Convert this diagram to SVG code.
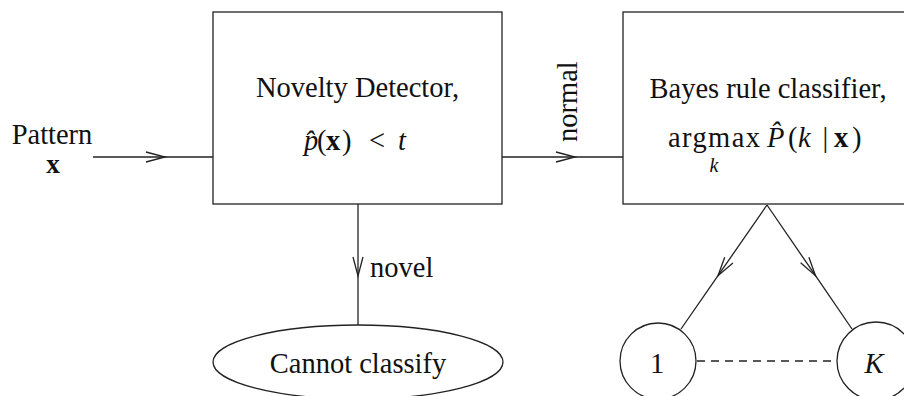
<svg xmlns="http://www.w3.org/2000/svg" width="904" height="396" viewBox="0 0 904 396" font-family="'Liberation Serif', 'Times New Roman', serif">
<style>
  text { font-family: "Liberation Serif", "Times New Roman", serif; font-size: 28.5px; fill: #111; }
  .it { font-style: italic; }
  .bf { font-weight: bold; }
  .shape { fill: #fff; stroke: #222; stroke-width: 1.3; }
  .conn { fill: none; stroke: #222; stroke-width: 1.3; marker-mid: url(#v); }
  .dash { fill: none; stroke: #222; stroke-width: 1.3; stroke-dasharray: 8 6; }
</style>
<defs>
  <marker id="v" markerUnits="userSpaceOnUse" viewBox="-1 -1 22 12" refX="19" refY="5" markerWidth="22" markerHeight="12" orient="auto" overflow="visible">
    <path d="M0,0 L19,5 L0,10" fill="none" stroke="#222" stroke-width="1.3"/>
  </marker>
</defs>
<rect width="904" height="396" fill="#fff"/>

<g id="connectors">
  <path class="conn" d="M93,157 L165,157 L213,157"/>
  <path class="conn" d="M502,157 L575,157 L623,157"/>
  <path class="conn" d="M358,204 L358,276 L358,325"/>
  <path class="conn" d="M767,205 L718,275.7 L681,329"/>
  <path class="conn" d="M767,205 L815.5,275.7 L852,329"/>
  <path class="dash" d="M697,361 L837,361"/>
  <text transform="translate(577,142) rotate(-90)">normal</text>
  <text x="370" y="277">novel</text>
</g>

<g id="input">
  <text x="52" y="144" text-anchor="middle">Pattern</text>
  <text x="53" y="173" text-anchor="middle" class="bf" style="font-size:27px">x</text>
</g>

<g id="novelty-detector">
  <rect class="shape" x="213" y="12" width="289" height="192"/>
  <text x="357.5" y="97" text-anchor="middle">Novelty Detector,</text>
  <text y="150"><tspan x="304" class="it">p&#x302;</tspan><tspan x="317">(</tspan><tspan x="326" class="bf">x</tspan><tspan x="342">)</tspan><tspan x="369">&lt;</tspan><tspan x="398" class="it">t</tspan></text>
</g>

<g id="bayes-classifier">
  <rect class="shape" x="623" y="12" width="290" height="192"/>
  <text x="768" y="98" text-anchor="middle">Bayes rule classifier,</text>
  <text x="668" y="147" letter-spacing="1.4">argmax</text>
  <text x="714" y="172" text-anchor="middle" class="it" style="font-size:20px">k</text>
  <text y="147"><tspan x="767" class="it">P&#x302;</tspan><tspan x="788">(</tspan><tspan x="798" class="it">k</tspan><tspan x="822.5">|</tspan><tspan x="834" class="bf">x</tspan><tspan x="852">)</tspan></text>
</g>

<g id="cannot-classify">
  <ellipse class="shape" cx="358" cy="362" rx="145" ry="37"/>
  <text x="358" y="373" text-anchor="middle">Cannot classify</text>
</g>

<g id="class-1">
  <circle class="shape" cx="658" cy="361" r="38"/>
  <text x="657" y="373" text-anchor="middle">1</text>
</g>

<g id="class-K">
  <circle class="shape" cx="876" cy="361" r="39"/>
  <text x="874" y="373" text-anchor="middle" class="it">K</text>
</g>
</svg>
